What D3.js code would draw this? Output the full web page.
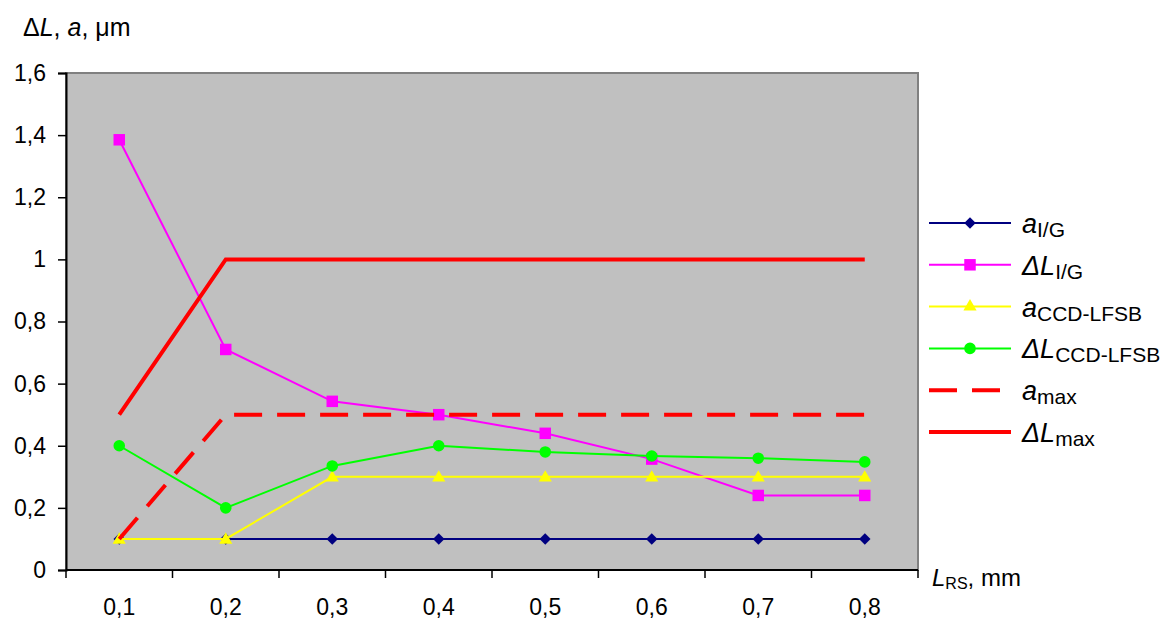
<!DOCTYPE html>
<html>
<head>
<meta charset="utf-8">
<script src="https://cdn.jsdelivr.net/npm/d3@7"></script>
<style>
  body { margin: 0; background: #fff; }
  svg { font-family: "Liberation Sans", Arial, sans-serif; }
</style>
</head>
<body>
<svg id="chart"></svg>
<script>
var width = 1171;
var height = 619;

// data
var categories = ["0,1", "0,2", "0,3", "0,4", "0,5", "0,6", "0,7", "0,8"];
var a_IG = [0.1, 0.1, 0.1, 0.1, 0.1, 0.1, 0.1, 0.1];
var dL_IG = [1.385, 0.71, 0.543, 0.5, 0.44, 0.357, 0.24, 0.24];
var a_CCD = [0.1, 0.1, 0.3, 0.3, 0.3, 0.3, 0.3, 0.3];
var dL_CCD = [0.4, 0.2, 0.335, 0.4, 0.38, 0.367, 0.36, 0.348];
var a_max = [0.1, 0.5, 0.5, 0.5, 0.5, 0.5, 0.5, 0.5];
var dL_max = [0.5, 1, 1, 1, 1, 1, 1, 1];
var yTicks = [0, 0.2, 0.4, 0.6, 0.8, 1, 1.2, 1.4, 1.6];

var series = [
  { main: "a", sub: "I/G", values: a_IG, color: "#000080", width: 2, marker: "diamond" },
  { main: "ΔL", sub: "I/G", values: dL_IG, color: "#FF00FF", width: 2, marker: "square" },
  { main: "a", sub: "CCD-LFSB", values: a_CCD, color: "#FFFF00", width: 2, marker: "triangle" },
  { main: "ΔL", sub: "CCD-LFSB", values: dL_CCD, color: "#00FF00", width: 2, marker: "circle" },
  { main: "a", sub: "max", values: a_max, color: "#FF0000", width: 4, marker: null, dash: "28,15" },
  { main: "ΔL", sub: "max", values: dL_max, color: "#FF0000", width: 4, marker: null }
];

var plot = { left: 66, top: 73, right: 918, bottom: 570 };

var svg = d3.select("#chart")
  .attr("width", width)
  .attr("height", height);

var x = d3.scaleBand()
  .domain(categories)
  .range([plot.left, plot.right]);

var y = d3.scaleLinear()
  .domain([0, 1.6])
  .range([plot.bottom, plot.top]);

// plot background
svg.append("rect")
  .attr("x", plot.left)
  .attr("y", plot.top)
  .attr("width", plot.right - plot.left)
  .attr("height", plot.bottom - plot.top)
  .attr("fill", "#C0C0C0")
  .attr("stroke", "#808080")
  .attr("stroke-width", 2);

// y axis
var yAxis = svg.append("g")
  .attr("transform", "translate(" + plot.left + ",0)")
  .call(d3.axisLeft(y).tickValues(yTicks).tickSize(8).tickPadding(12)
    .tickFormat(function (d) { return d3.format("~g")(d).replace(".", ","); }));
yAxis.select(".domain").attr("stroke", "#000").attr("stroke-width", 2);
yAxis.selectAll(".tick line").attr("stroke", "#000").attr("stroke-width", 1.5);
yAxis.selectAll(".tick text")
  .attr("font-size", "23px")
  .attr("fill", "#000")
  .attr("font-family", "Liberation Sans, Arial, sans-serif");

// x axis: labels at centers, ticks at band edges
var xAxis = svg.append("g")
  .attr("transform", "translate(0," + plot.bottom + ")");
xAxis.append("line")
  .attr("x1", plot.left).attr("x2", plot.right)
  .attr("stroke", "#000").attr("stroke-width", 2);
var edges = categories.map(function (c) { return x(c); }).concat([plot.right]);
xAxis.selectAll(".xtick")
  .data(edges)
  .enter().append("line")
  .attr("x1", function (d) { return d; })
  .attr("x2", function (d) { return d; })
  .attr("y1", 0).attr("y2", 8)
  .attr("stroke", "#000").attr("stroke-width", 1.5);
xAxis.selectAll(".xlabel")
  .data(categories)
  .enter().append("text")
  .attr("x", function (d) { return x(d) + x.bandwidth() / 2; })
  .attr("y", 45)
  .attr("text-anchor", "middle")
  .attr("font-size", "23px")
  .text(function (d) { return d; });

// lines + markers
var line = d3.line()
  .x(function (d, i) { return x(categories[i]) + x.bandwidth() / 2; })
  .y(function (d) { return y(d); });

function markerPath(type) {
  if (type == "diamond") return d3.symbol().type(d3.symbolSquare).size(66)();
  if (type == "square") return d3.symbol().type(d3.symbolSquare).size(132)();
  if (type == "triangle") return d3.symbol().type(d3.symbolTriangle).size(75)();
  if (type == "circle") return d3.symbol().type(d3.symbolCircle).size(105)();
  return null;
}

series.forEach(function (s) {
  var g = svg.append("g");
  g.append("path")
    .datum(s.values)
    .attr("d", line)
    .attr("fill", "none")
    .attr("stroke", s.color)
    .attr("stroke-width", s.width)
    .attr("stroke-dasharray", s.dash || null);
  if (s.marker) {
    g.selectAll(".m")
      .data(s.values)
      .enter().append("path")
      .attr("d", markerPath(s.marker))
      .attr("fill", s.color)
      .attr("transform", function (d, i) {
        var t = "translate(" + (x(categories[i]) + x.bandwidth() / 2) + "," + y(d) + ")";
        if (s.marker == "diamond") t += " rotate(45)";
        if (s.marker == "triangle") t += " translate(0,1)";
        return t;
      });
  }
});

// legend
var legend = svg.append("g");
var legX1 = 929, legX2 = 1011, legY0 = 223, legStep = 41.8;
series.forEach(function (s, i) {
  var ly = legY0 + i * legStep;
  legend.append("line")
    .attr("x1", legX1).attr("x2", legX2)
    .attr("y1", ly).attr("y2", ly)
    .attr("stroke", s.color)
    .attr("stroke-width", s.width)
    .attr("stroke-dasharray", s.dash || null);
  if (s.marker) {
    legend.append("path")
      .attr("d", markerPath(s.marker))
      .attr("fill", s.color)
      .attr("transform", "translate(970," + ly + ")" + (s.marker == "diamond" ? " rotate(45)" : ""));
  }
  var t = legend.append("text")
    .attr("x", 1022)
    .attr("y", ly + 10)
    .attr("font-size", "27px");
  t.append("tspan").attr("font-style", "italic").text(s.main);
  t.append("tspan").attr("font-size", "21px").attr("dy", 4).text(s.sub);
});

// axis titles
var yt = svg.append("text")
  .attr("x", 23)
  .attr("y", 36)
  .attr("font-size", "25px");
yt.append("tspan").text("Δ");
yt.append("tspan").attr("font-style", "italic").text("L");
yt.append("tspan").text(", ");
yt.append("tspan").attr("font-style", "italic").text("a");
yt.append("tspan").text(", μm");

var xt = svg.append("text")
  .attr("x", 932)
  .attr("y", 586)
  .attr("font-size", "24px");
xt.append("tspan").attr("font-style", "italic").text("L");
xt.append("tspan").attr("font-size", "16px").attr("dy", 3).text("RS");
xt.append("tspan").attr("dy", -3).text(", mm");
</script>
</body>
</html>
